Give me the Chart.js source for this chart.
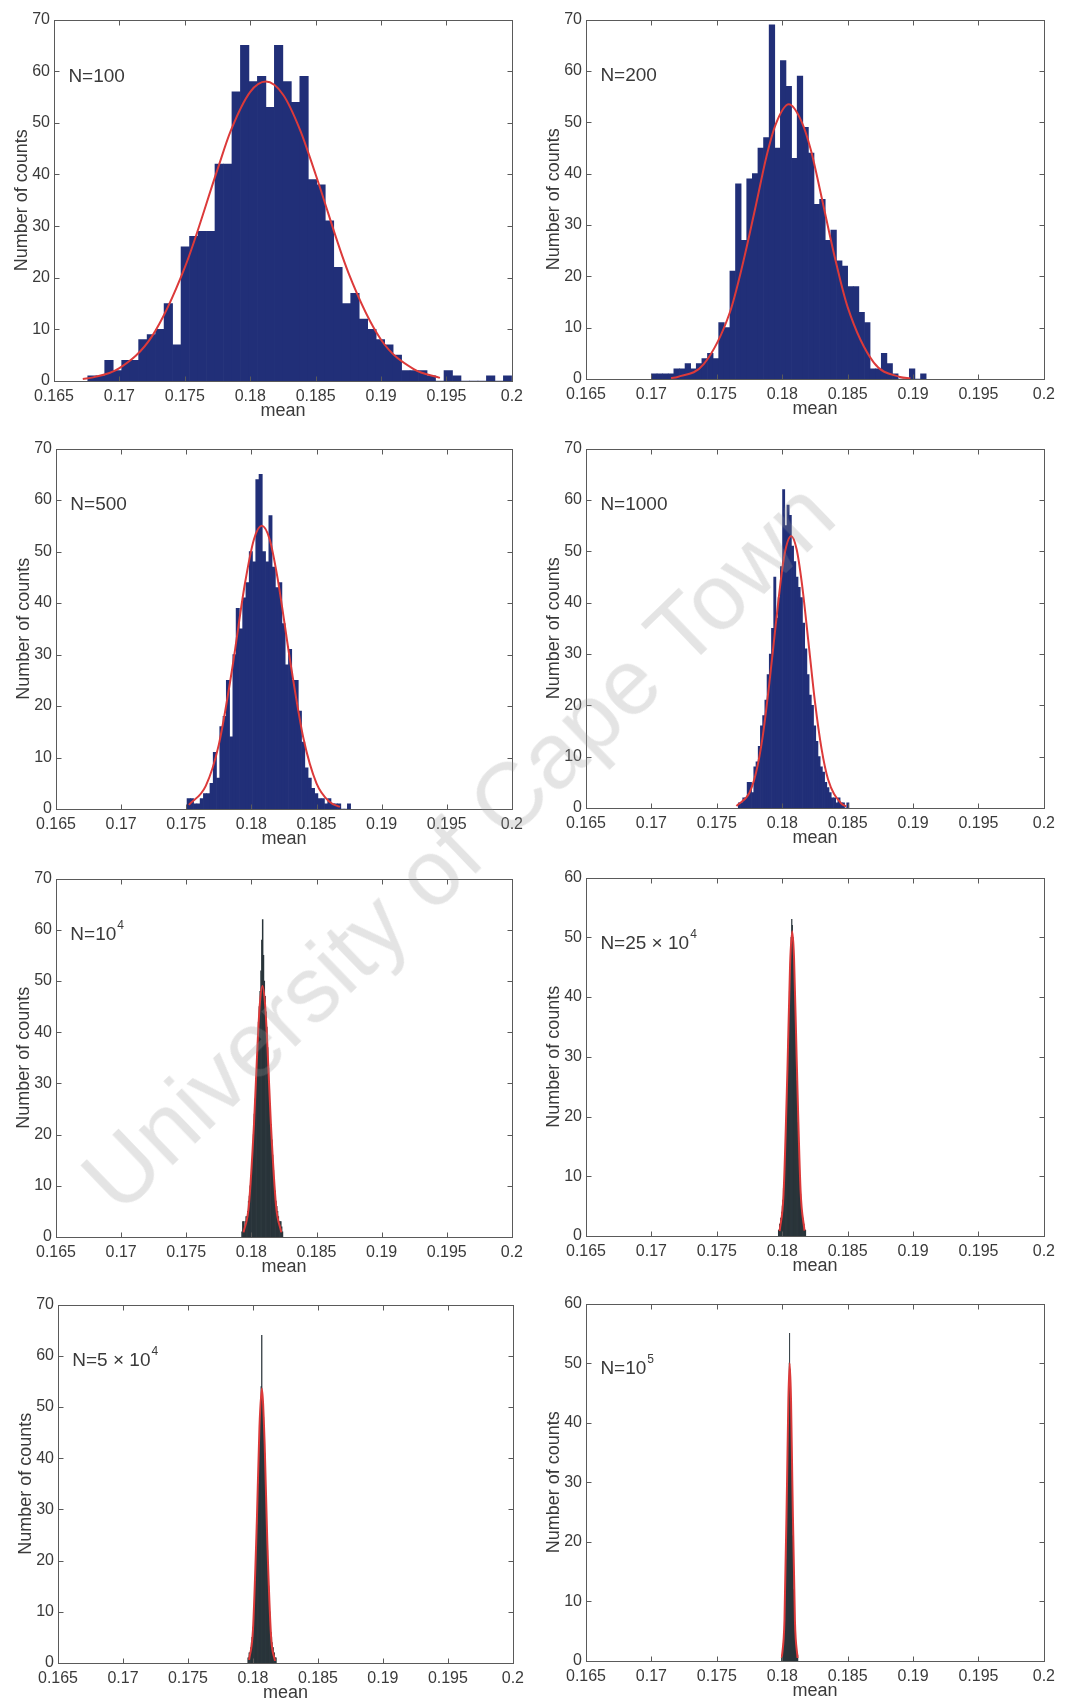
<!DOCTYPE html>
<html>
<head>
<meta charset="utf-8">
<title>Histograms of the mean for increasing N</title>
<script src="https://cdn.jsdelivr.net/npm/chart.js@4.4.0/dist/chart.umd.min.js"></script>
<style>
  html, body { margin: 0; padding: 0; background: #fff; }
  #page { position: relative; width: 1067px; height: 1699px; overflow: hidden; background: #fff; }
  #page canvas { position: absolute; }
  #watermark {
    position: absolute; left: 458px; top: 846px;
    transform: translate(-50%, -50%) rotate(-44deg);
    font-family: "Liberation Sans", Arial, sans-serif; font-size: 93px;
    color: rgba(150, 150, 150, 0.26); white-space: nowrap; pointer-events: none;
  }
</style>
</head>
<body>
<div id="page">
  <canvas id="c1"></canvas>
  <canvas id="c2"></canvas>
  <canvas id="c3"></canvas>
  <canvas id="c4"></canvas>
  <canvas id="c5"></canvas>
  <canvas id="c6"></canvas>
  <canvas id="c7"></canvas>
  <canvas id="c8"></canvas>
  <div id="watermark">University of Cape Town</div>
</div>
<script>
// axis ticks shared by all panels
const xTickValues = [0.165, 0.17, 0.175, 0.18, 0.185, 0.19, 0.195, 0.2];
const xTickLabels = ["0.165", "0.17", "0.175", "0.18", "0.185", "0.19", "0.195", "0.2"];
const yTicks70 = [0, 10, 20, 30, 40, 50, 60, 70];
const yTicks60 = [0, 10, 20, 30, 40, 50, 60];

// N=100
const range100 = [0.16758, 0.2];
const counts100 = [1, 1, 4, 2, 4, 4, 8, 9, 10, 15, 7, 26, 28, 29, 29, 42, 42, 56, 65, 58,
  59, 53, 65, 58, 54, 59, 39, 38, 31, 22, 15, 17, 12, 10, 8, 7, 5, 2, 2, 2,
  1, 0, 2, 1, 0, 0, 0, 1, 0, 1];
const fitX100 = [0.1672, 0.168, 0.170, 0.1725, 0.175, 0.1775, 0.1785, 0.180, 0.1812, 0.1825, 0.1838, 0.185, 0.1875, 0.190, 0.1925, 0.1945];
const fitY100 = [0.4, 0.7, 2.5, 8.7, 22, 41, 48.4, 56, 58, 55.5, 48.7, 40, 21, 8, 2.3, 0.6];

// N=200
const range200 = [0.1700, 0.1910];
const counts200 = [1, 1, 1, 1, 2, 2, 3, 2, 3, 4, 5, 4, 11, 10, 21, 38, 27, 39, 40, 45,
  47, 69, 45, 62, 57, 43, 59, 49, 44, 34, 35, 27, 29, 23, 22, 18, 18, 13, 11, 2,
  2, 5, 3, 1, 0, 0, 2, 0, 1];
const fitX200 = [0.1715, 0.172, 0.174, 0.176, 0.177, 0.178, 0.1788, 0.1795, 0.1805, 0.1815, 0.1822, 0.183, 0.184, 0.185, 0.187, 0.189, 0.1898];
const fitY200 = [0.2, 0.4, 2.9, 13, 22.6, 34, 43.4, 49.6, 53.5, 50, 44.5, 35.5, 23.9, 14, 3.2, 0.4, 0.15];

// N=500
const range500 = [0.17506, 0.18762];
const counts500 = [2, 2, 1, 1, 2, 3, 3, 5, 11, 6, 16, 18, 25, 14, 30, 39, 35, 41, 44, 50,
  48, 64, 65, 50, 48, 57, 47, 43, 44, 36, 28, 31, 25, 25, 19, 13, 8, 6, 4, 3,
  2, 2, 1, 2, 1, 1, 1, 0, 0, 1];
const fitX500 = [0.1752, 0.1765, 0.1775, 0.1785, 0.1795, 0.1802, 0.1808, 0.1814, 0.182, 0.183, 0.184, 0.185, 0.186, 0.1868];
const fitY500 = [0.8, 4.5, 12.5, 26.8, 43.7, 52.4, 55, 52.4, 45, 28.4, 13.7, 5, 1.4, 0.4];

// N=1000
const range1000 = [0.17664, 0.1851];
const counts1000 = [1, 1, 2, 2, 5, 5, 3, 8, 9, 12, 16, 18, 21, 26, 30, 35, 45, 37, 41, 47,
  62, 55, 59, 57, 51, 48, 45, 43, 41, 36, 31, 26, 22, 20, 16, 13, 10, 8, 7, 5,
  4, 3, 2, 2, 1, 2, 1, 1, 0, 1];
const fitX1000 = [0.1765, 0.1775, 0.178, 0.1785, 0.179, 0.1795, 0.180, 0.1803, 0.18068, 0.1811, 0.1815, 0.182, 0.1825, 0.183, 0.1835, 0.1845, 0.1849];
const fitY1000 = [0.4, 3, 6.9, 13.8, 24, 35.6, 46.5, 50.9, 53, 50.4, 43.8, 32.4, 20.7, 11.6, 5.6, 0.9, 0.3];

// N=10^4
const range1e4 = [0.17925, 0.18242];
const counts1e4 = [1, 3, 3, 2, 3, 4, 4, 5, 7, 8, 10, 12, 15, 17, 20, 24, 27, 31, 34, 38,
  42, 45, 48, 52, 58, 62, 55, 50, 47, 44, 41, 37, 33, 29, 26, 22, 19, 16, 13, 11,
  9, 7, 6, 5, 4, 3, 3, 3, 2, 1];
const fitX1e4 = [0.1794, 0.1798, 0.1802, 0.1805, 0.18065, 0.18085, 0.18105, 0.1812, 0.1815, 0.1819, 0.1823];
const fitY1e4 = [0.9, 6, 22, 39, 45.5, 49, 45.5, 39, 22, 6, 0.9];

// N=25x10^4
const range25e4 = [0.1797, 0.1818];
const counts25e4 = [1, 1, 2, 2, 3, 3, 4, 5, 6, 8, 9, 11, 13, 16, 19, 22, 25, 29, 33, 37,
  41, 44, 47, 50, 53, 52, 50, 47, 44, 41, 38, 34, 30, 26, 23, 19, 16, 13, 11, 9,
  7, 5, 4, 3, 3, 2, 2, 1, 1, 1];
const fitX25e4 = [0.1798, 0.1801, 0.1804, 0.1806, 0.18076, 0.1809, 0.1811, 0.1814, 0.1817];
const fitY25e4 = [0.8, 7, 28, 45.4, 51, 46.7, 30, 7.7, 0.9];

// N=5x10^4
const range5e4 = [0.1796, 0.1818];
const counts5e4 = [1, 1, 2, 2, 2, 3, 4, 5, 6, 7, 9, 11, 13, 16, 19, 23, 27, 31, 35, 39,
  43, 47, 50, 54, 64, 53, 51, 48, 45, 41, 37, 33, 29, 25, 22, 18, 15, 12, 10, 8,
  6, 5, 4, 3, 3, 2, 2, 1, 1, 1];
const fitX5e4 = [0.1797, 0.1800, 0.1803, 0.1805, 0.18068, 0.1809, 0.1811, 0.1814, 0.1817];
const fitY5e4 = [0.6, 6.4, 27.7, 46, 53.6, 42.8, 24, 5, 0.4];

// N=10^5
const range1e5 = [0.17995, 0.1812];
const counts1e5 = [1, 1, 1, 2, 2, 3, 3, 4, 5, 6, 8, 10, 12, 14, 17, 20, 24, 28, 32, 36,
  40, 44, 47, 50, 55, 49, 47, 44, 40, 36, 32, 28, 24, 21, 18, 15, 12, 10, 8, 6,
  5, 4, 3, 3, 2, 2, 1, 1, 1, 1];
const fitX1e5 = [0.17997, 0.18017, 0.18037, 0.18047, 0.18057, 0.18067, 0.18077, 0.18097, 0.18117];
const fitY1e5 = [0.5, 6.8, 30.3, 44, 50, 44, 30.3, 6.8, 0.5];

const navy = "#212f78";
const darkBars = "#29343a";
const fitRed = "#dc3a3a";
const inkColor = "#3a3a3a";
const frameColor = "#5a5a5a";
const fontFamily = "'Liberation Sans', Arial, Helvetica, sans-serif";

const panels = [
  { id: "c1", rect: [54, 16, 517, 381], yTicks: yTicks70, range: range100, counts: counts100, fitX: fitX100, fitY: fitY100, color: navy, label: [["N=100"]], labelY: 59 },
  { id: "c2", rect: [586, 16, 1049, 379], yTicks: yTicks70, range: range200, counts: counts200, fitX: fitX200, fitY: fitY200, color: navy, label: [["N=200"]], labelY: 59 },
  { id: "c3", rect: [56, 445, 517, 809], yTicks: yTicks70, range: range500, counts: counts500, fitX: fitX500, fitY: fitY500, color: navy, label: [["N=500"]], labelY: 59 },
  { id: "c4", rect: [586, 445, 1049, 808], yTicks: yTicks70, range: range1000, counts: counts1000, fitX: fitX1000, fitY: fitY1000, color: navy, label: [["N=1000"]], labelY: 59 },
  { id: "c5", rect: [56, 875, 517, 1237], yTicks: yTicks70, range: range1e4, counts: counts1e4, fitX: fitX1e4, fitY: fitY1e4, color: darkBars, label: [["N=10"], ["4", true]], labelY: 59 },
  { id: "c6", rect: [586, 874, 1049, 1236], yTicks: yTicks60, range: range25e4, counts: counts25e4, fitX: fitX25e4, fitY: fitY25e4, color: darkBars, label: [["N=25 \u00d7 10"], ["4", true]], labelY: 49 },
  { id: "c7", rect: [58, 1301, 518, 1663], yTicks: yTicks70, range: range5e4, counts: counts5e4, fitX: fitX5e4, fitY: fitY5e4, color: darkBars, label: [["N=5 \u00d7 10"], ["4", true]], labelY: 59 },
  { id: "c8", rect: [586, 1300, 1049, 1661], yTicks: yTicks60, range: range1e5, counts: counts1e5, fitX: fitX1e5, fitY: fitY1e5, color: darkBars, label: [["N=10"], ["5", true]], labelY: 49 }
];

// matlab style box with inward ticks on all four sides
const framePlugin = {
  id: "frame",
  afterDraw(chart) {
    const { ctx, chartArea: a, scales: { x, y } } = chart;
    const L = Math.round(a.left) + 0.5, R = Math.round(a.right) + 0.5;
    const T = Math.round(a.top) + 0.5, B = Math.round(a.bottom) + 0.5;
    ctx.save();
    ctx.strokeStyle = frameColor;
    ctx.lineWidth = 1;
    ctx.strokeRect(L, T, R - L, B - T);
    ctx.beginPath();
    x.ticks.forEach(t => {
      const px = Math.round(x.getPixelForValue(t.value)) + 0.5;
      ctx.moveTo(px, B); ctx.lineTo(px, B - 5);
      ctx.moveTo(px, T); ctx.lineTo(px, T + 5);
    });
    y.ticks.forEach(t => {
      const py = Math.round(y.getPixelForValue(t.value)) + 0.5;
      ctx.moveTo(L, py); ctx.lineTo(L + 5, py);
      ctx.moveTo(R, py); ctx.lineTo(R - 5, py);
    });
    ctx.stroke();
    ctx.restore();
  }
};

// "N=..." annotation, with an optional superscript part
const labelPlugin = {
  id: "panelLabel",
  afterDraw(chart, args, opts) {
    const { ctx, scales: { x, y } } = chart;
    let px = x.getPixelForValue(opts.x);
    const py = y.getPixelForValue(opts.y);
    ctx.save();
    ctx.fillStyle = inkColor;
    ctx.textBaseline = "middle";
    opts.parts.forEach(([text, sup]) => {
      ctx.font = (sup ? "12px " : "19px ") + fontFamily;
      ctx.fillText(text, px + (sup ? 1 : 0), sup ? py - 9 : py);
      px += ctx.measureText(text).width + (sup ? 1 : 0);
    });
    ctx.restore();
  }
};

function drawPanel(p) {
  const [l, t, r, b] = p.rect;
  const padL = 58, padT = 10, padR = 12, padB = 52;
  const canvas = document.getElementById(p.id);
  canvas.width = r - l + padL + padR;
  canvas.height = b - t + padT + padB;
  canvas.style.left = (l - padL) + "px";
  canvas.style.top = (t - padT) + "px";

  const binWidth = (p.range[1] - p.range[0]) / p.counts.length;
  const bars = p.counts.map((c, i) => ({ x: p.range[0] + (i + 0.5) * binWidth, y: c }));
  const fit = p.fitX.map((v, i) => ({ x: v, y: p.fitY[i] }));
  const yMax = p.yTicks[p.yTicks.length - 1];

  new Chart(canvas, {
    type: "bar",
    data: {
      datasets: [
        { type: "line", data: fit, borderColor: fitRed, borderWidth: 2, pointRadius: 0,
          cubicInterpolationMode: "monotone", fill: false, order: 0 },
        { type: "bar", data: bars, backgroundColor: p.color, borderWidth: 0,
          barPercentage: 1, categoryPercentage: 1, order: 1 }
      ]
    },
    options: {
      responsive: false,
      animation: false,
      events: [],
      layout: { padding: { left: 0, top: padT, right: padR, bottom: 0 } },
      plugins: {
        legend: { display: false },
        tooltip: { enabled: false },
        panelLabel: { parts: p.label, x: 0.1661, y: p.labelY }
      },
      scales: {
        x: {
          type: "linear", min: 0.165, max: 0.2, offset: false,
          grid: { display: false, drawTicks: false, offset: false },
          border: { display: false },
          afterBuildTicks: s => { s.ticks = xTickValues.map(v => ({ value: v })); },
          afterFit: s => { s.height = padB; },
          ticks: { padding: 6, maxRotation: 0, autoSkip: false, color: inkColor,
            font: { family: fontFamily, size: 16 }, callback: (v, i) => xTickLabels[i] },
          title: { display: true, text: "mean", color: inkColor,
            font: { family: fontFamily, size: 18 }, padding: { top: 0, bottom: 11 } }
        },
        y: {
          min: 0, max: yMax,
          grid: { display: false, drawTicks: false },
          border: { display: false },
          afterBuildTicks: s => { s.ticks = p.yTicks.map(v => ({ value: v })); },
          afterFit: s => { s.width = padL; },
          ticks: { padding: 4, color: inkColor, font: { family: fontFamily, size: 16 },
            callback: (v, i) => String(p.yTicks[i]) },
          title: { display: true, text: "Number of counts", color: inkColor,
            font: { family: fontFamily, size: 18 }, padding: { top: 15, bottom: 0 } }
        }
      }
    },
    plugins: [framePlugin, labelPlugin]
  });
}

panels.forEach(drawPanel);
</script>
</body>
</html>
